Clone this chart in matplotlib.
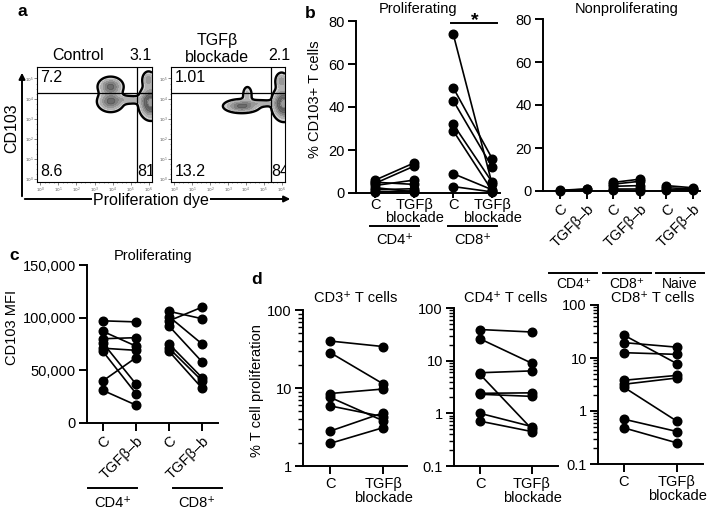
import numpy as np
import matplotlib
matplotlib.use("Agg")
import matplotlib.pyplot as plt
from matplotlib.ticker import FixedLocator, NullFormatter, LogLocator

plt.rcParams['font.family'] = ['Liberation Sans', 'DejaVu Sans']
plt.rcParams['axes.linewidth'] = 1.4

# ---------------- data ----------------
# Panel a (flow plots): quadrant percentages
flow_titles = ["Control", "TGFβ\nblockade"]
flow_q_ul = ["7.2", "1.01"]
flow_q_ur = ["3.1", "2.1"]
flow_q_ll = ["8.6", "13.2"]
flow_q_lr = ["81", "84"]
# approximate density components (axes fractions): x, y, sx, sy, weight
ctrl_bx = [0.64, 0.64, 0.80, 0.99, 0.97]
ctrl_by = [0.83, 0.70, 0.715, 0.69, 0.89]
ctrl_sx = [0.055, 0.058, 0.07, 0.05, 0.03]
ctrl_sy = [0.042, 0.045, 0.02, 0.07, 0.04]
ctrl_w = [1.0, 1.0, 0.45, 1.6, 0.6]
tgf_bx = [0.62, 0.67, 0.80, 0.99, 0.97]
tgf_by = [0.66, 0.76, 0.685, 0.68, 0.88]
tgf_sx = [0.08, 0.025, 0.07, 0.05, 0.03]
tgf_sy = [0.03, 0.045, 0.016, 0.07, 0.04]
tgf_w = [1.0, 0.35, 0.4, 1.6, 0.6]
flow_gate_x = [0.87, 0.877]
flow_gate_y = [0.774, 0.77]

# Panel b: % CD103+ T cells
b_xlabels = ["C", "TGFβ\nblockade", "C", "TGFβ\nblockade"]
b_yticks = [0, 20, 40, 60, 80]
b_cd4_c = [6, 4.5, 3.5, 5, 1.5, 0.5, 2.5]
b_cd4_t = [14, 12.5, 6, 4, 2, 1, 0.5]
b_cd8_c = [74, 49, 43, 32, 29, 9, 3]
b_cd8_t = [4, 16, 12, 5, 1, 1.5, 0.5]
np_xlabels = ["C", "TGFβ–b", "C", "TGFβ–b", "C", "TGFβ–b"]
np_cd4_c = [0.3, 0.2]
np_cd4_t = [1.0, 0.8]
np_cd8_c = [4.0, 3.2, 2.2, 1.0, 0.5]
np_cd8_t = [5.5, 4.5, 2.5, 1.0, 0.2]
np_naive_c = [2.5, 1.5, 0.5]
np_naive_t = [1.5, 1.0, 0.6]

# Panel c: CD103 MFI
c_xlabels = ["C", "TGFβ–b", "C", "TGFβ–b"]
c_yticks = [0, 50000, 100000, 150000]
c_yticklabels = ["0", "50,000", "100,000", "150,000"]
c_cd4_c = [97000, 87000, 80000, 76000, 71000, 68000, 40000, 31000]
c_cd4_t = [96000, 73000, 81000, 37000, 69000, 28000, 62000, 17000]
c_cd8_c = [106000, 101000, 97000, 92000, 75000, 71000, 68000]
c_cd8_t = [99000, 75000, 110000, 58000, 43000, 40000, 33000]

# Panel d: % T cell proliferation (log)
d_titles = ["CD3⁺ T cells", "CD4⁺ T cells", "CD8⁺ T cells"]
d_xlabels = ["C", "TGFβ\nblockade"]
d_cd3_c = [40, 28.5, 8.5, 7.6, 5.9, 2.8, 1.95]
d_cd3_t = [34, 11.3, 9.7, 3.8, 4.3, 4.8, 3.1]
d_cd4_c = [39, 26, 5.9, 5.5, 2.4, 2.3, 1.0, 0.71]
d_cd4_t = [35, 8.9, 6.4, 0.5, 2.45, 2.1, 0.56, 0.45]
d_cd8_c = [27, 19.5, 12.6, 3.8, 3.2, 2.8, 0.7, 0.48]
d_cd8_t = [7.8, 16, 11.7, 4.7, 4.2, 0.64, 0.41, 0.25]

# ---------------- figure helpers ----------------
W, H = 709, 530
fig = plt.figure(figsize=(W / 100, H / 100), dpi=100)
FS = 10.5


def ax_px(x0, y0, x1, y1):
    return fig.add_axes([x0 / W, 1 - y1 / H, (x1 - x0) / W, (y1 - y0) / H])


def ftext(x, y, s, **kw):
    kw.setdefault('fontsize', FS)
    return fig.text(x / W, 1 - y / H, s, **kw)


def fline(x0, x1, y, lw=1.4):
    fig.add_artist(plt.Line2D([x0 / W, x1 / W], [1 - y / H, 1 - y / H],
                              transform=fig.transFigure, color='k', lw=lw))


def data_to_px(ax, xd):
    disp = ax.transData.transform((xd, ax.get_ylim()[0]))
    return disp[0]


def style_ax(ax):
    for s in ['top', 'right']:
        ax.spines[s].set_visible(False)
    ax.tick_params(axis='both', which='major', length=6, width=1.4,
                   labelsize=FS, pad=2, direction='out')
    ax.tick_params(axis='both', which='minor', length=3.5, width=1.0)
    ax.patch.set_alpha(0)


def pair(ax, x0, x1, cs, ts):
    for c, t in zip(cs, ts):
        ax.plot([x0, x1], [c, t], '-o', color='k', ms=6.2, lw=1.2,
                clip_on=False, zorder=5)


def group(ax, xc, half, ypx, label, lab_y, fs=FS):
    xa = data_to_px(ax, xc - half)
    xb = data_to_px(ax, xc + half)
    fline(xa, xb, ypx)
    ftext((xa + xb) / 2, lab_y, label, ha='center', va='center', fontsize=fs)


# ---------------- panel a ----------------
ftext(22, 12, "a", fontweight='bold', fontsize=12.5, ha='center', va='center')
flow_boxes = [(37, 67, 152, 182), (171, 67, 285, 182)]
blob_sets = [(ctrl_bx, ctrl_by, ctrl_sx, ctrl_sy, ctrl_w),
             (tgf_bx, tgf_by, tgf_sx, tgf_sy, tgf_w)]
gx = np.linspace(0, 1, 300)
XX, YY = np.meshgrid(gx, gx)
levels = [0.12, 0.3, 0.5, 0.7, 0.9, 1.15, 1.4, 3]
grays = ['#cfcfcf', '#b0b0b0', '#969696', '#808080', '#6c6c6c', '#5e5e5e', '#9a9a9a']
for i, (box, bs) in enumerate(zip(flow_boxes, blob_sets)):
    ax = ax_px(*box)
    Z = np.zeros_like(XX)
    for x0, y0, sx, sy, w in zip(*bs):
        Z += w * np.exp(-0.5 * (((XX - x0) / sx) ** 2 + ((YY - y0) / sy) ** 2))
    ax.contourf(XX, YY, Z, levels=levels, colors=grays)
    ax.contour(XX, YY, Z, levels=[0.12], colors='k', linewidths=1.7)
    ax.contour(XX, YY, Z, levels=[0.9, 1.4], colors='#555555', linewidths=0.4)
    ax.axvline(flow_gate_x[i], color='k', lw=0.9)
    ax.axhline(flow_gate_y[i], color='k', lw=0.9)
    ax.set_xlim(0, 1)
    ax.set_ylim(0, 1)
    for s in ax.spines.values():
        s.set_linewidth(0.8)
    ax.set_xticks(np.linspace(0.03, 0.97, 7))
    ax.set_yticks(np.linspace(0.03, 0.90, 6))
    ax.set_xticklabels([f"$10^{k}$" for k in range(7)], fontsize=3)
    ax.set_yticklabels([f"$10^{k}$" for k in range(6)], fontsize=3)
    ax.tick_params(length=2, width=0.5, pad=0.5, colors='#555555')
    ax.xaxis.set_minor_locator(FixedLocator(np.linspace(0.03, 0.97, 25)))
    ax.yaxis.set_minor_locator(FixedLocator(np.linspace(0.03, 0.90, 21)))
    ax.tick_params(which='minor', length=1, width=0.4, colors='#555555')
    ax.text(0.03, 0.97, flow_q_ul[i], transform=ax.transAxes, fontsize=11.5,
            ha='left', va='top')
    ax.text(0.03, 0.03, flow_q_ll[i], transform=ax.transAxes, fontsize=11.5,
            ha='left', va='bottom')
    ax.text(flow_gate_x[i] + 0.005, 0.03, flow_q_lr[i], transform=ax.transAxes,
            fontsize=11.5, ha='left', va='bottom', clip_on=True)
ftext(78, 55, flow_titles[0], ha='center', va='center', fontsize=11.5)
ftext(152, 55, flow_q_ur[0], ha='right', va='center', fontsize=11.5)
ftext(217, 49, flow_titles[1], ha='center', va='center', fontsize=11.5,
      multialignment='center', linespacing=1.1)
ftext(290, 55, flow_q_ur[1], ha='right', va='center', fontsize=11.5)
# axis arrows
fig.add_artist(matplotlib.patches.FancyArrowPatch(
    (22 / W, 1 - 199 / H), (22 / W, 1 - 70 / H), transform=fig.transFigure,
    arrowstyle='-|>', mutation_scale=9, color='k', lw=1.4))
fig.add_artist(matplotlib.patches.FancyArrowPatch(
    (22 / W, 1 - 199 / H), (293 / W, 1 - 199 / H), transform=fig.transFigure,
    arrowstyle='-|>', mutation_scale=9, color='k', lw=1.4))
ftext(151, 201, "Proliferation dye", ha='center', va='center', fontsize=11.5,
      bbox=dict(facecolor='white', edgecolor='none', pad=0.5))
ftext(12, 128, "CD103", ha='center', va='center', rotation=90, fontsize=11.5)

# ---------------- panel b ----------------
ftext(310, 14, "b", fontweight='bold', fontsize=12.5, ha='center', va='center')
axb1 = ax_px(356, 21, 500, 193)
style_ax(axb1)
axb1.tick_params(axis='x', which='major', length=3.8, pad=0)
axb1.set_xlim(-0.49, 3.2)
axb1.set_ylim(0, 80)
pair(axb1, 0, 1, b_cd4_c, b_cd4_t)
pair(axb1, 2, 3, b_cd8_c, b_cd8_t)
axb1.set_yticks(b_yticks)
axb1.set_xticks(range(4))
axb1.set_xticklabels(b_xlabels, linespacing=0.85)
ftext(315, 99, "% CD103+ T cells", rotation=90, ha='center', va='center')
ftext(418, 9, "Proliferating", ha='center', va='center')
axb1.plot([1.95, 3.12], [79, 79], color='k', lw=1.4, clip_on=False)
ftext(475, 21, "*", ha='center', va='center', fontsize=14, fontweight='bold')
group(axb1, 0.5, 0.63, 226, "CD4⁺", 240)
group(axb1, 2.5, 0.63, 226, "CD8⁺", 240)

axb2 = ax_px(543, 19, 700, 191)
style_ax(axb2)
axb2.set_xlim(-0.64, 5.26)
axb2.set_ylim(0, 80)
pair(axb2, 0, 1, np_cd4_c, np_cd4_t)
pair(axb2, 2, 3, np_cd8_c, np_cd8_t)
pair(axb2, 4, 5, np_naive_c, np_naive_t)
axb2.set_yticks(b_yticks)
axb2.set_xticks(range(6))
axb2.set_xticklabels(np_xlabels, rotation=45, ha='right', va='top',
                     rotation_mode='anchor')
ftext(627, 9, "Nonproliferating", ha='center', va='center')
group(axb2, 0.5, 0.9, 273, "CD4⁺", 284, fs=10)
group(axb2, 2.5, 0.9, 273, "CD8⁺", 284, fs=10)
group(axb2, 4.5, 0.9, 273, "Naive", 284, fs=10)

# ---------------- panel c ----------------
ftext(14, 256, "c", fontweight='bold', fontsize=12.5, ha='center', va='center')
axc = ax_px(87, 265, 218, 423)
style_ax(axc)
axc.set_xlim(-0.48, 3.48)
axc.set_ylim(0, 150000)
pair(axc, 0, 1, c_cd4_c, c_cd4_t)
pair(axc, 2, 3, c_cd8_c, c_cd8_t)
axc.set_yticks(c_yticks)
axc.set_yticklabels(c_yticklabels)
axc.set_xticks(range(4))
axc.set_xticklabels(c_xlabels, rotation=45, ha='right', va='top',
                    rotation_mode='anchor')
ftext(153, 256, "Proliferating", ha='center', va='center')
ftext(12, 327, "CD103 MFI", rotation=90, ha='center', va='center')
group(axc, 0.30, 0.74, 488, "CD4⁺", 503)
group(axc, 2.85, 0.74, 488, "CD8⁺", 503)

# ---------------- panel d ----------------
ftext(257, 280, "d", fontweight='bold', fontsize=12.5, ha='center', va='center')
d_boxes = [(303, 310, 407, 466), (454, 308, 558, 466), (598, 305, 703, 464)]
d_xlims = [(-0.51, 1.45), (-0.5, 1.5), (-0.49, 1.49)]
d_ylims = [(1, 100), (0.1, 100), (0.1, 100)]
d_data = [(d_cd3_c, d_cd3_t), (d_cd4_c, d_cd4_t), (d_cd8_c, d_cd8_t)]
d_title_x = [356, 506, 653]
for i in range(3):
    ax = ax_px(*d_boxes[i])
    style_ax(ax)
    ax.set_yscale('log')
    ax.set_xlim(*d_xlims[i])
    ax.set_ylim(*d_ylims[i])
    pair(ax, 0, 1, *d_data[i])
    lo, hi = d_ylims[i]
    majors = [v for v in [0.1, 1, 10, 100] if lo <= v <= hi]
    ax.yaxis.set_major_locator(FixedLocator(majors))
    ax.set_yticklabels([f"{v:g}" for v in majors])
    ax.yaxis.set_minor_locator(LogLocator(base=10, subs=np.arange(2, 10)))
    ax.yaxis.set_minor_formatter(NullFormatter())
    ax.set_xticks([0, 1])
    ax.set_xticklabels(d_xlabels, linespacing=1.0)
    ftext(d_title_x[i], 298.5, d_titles[i], ha='center', va='center')
ftext(257, 391, "% T cell proliferation", rotation=90, ha='center', va='center')

fig.savefig("out.png", dpi=100)
